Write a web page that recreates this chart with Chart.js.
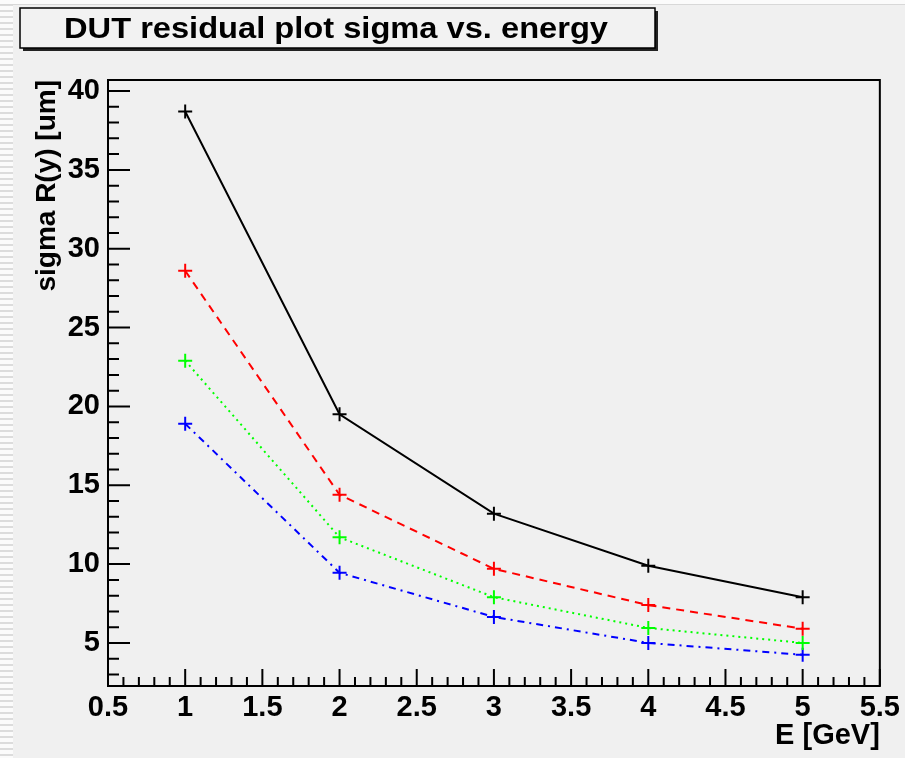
<!DOCTYPE html>
<html>
<head>
<meta charset="utf-8">
<script src="https://cdn.jsdelivr.net/npm/chart.js@4"></script>
<style>
  html, body { margin: 0; padding: 0; background: #f0f0f0; }
  #wrap { position: relative; width: 905px; height: 758px; }
  #strip {
    position: absolute; left: 0; top: 0; width: 13px; height: 758px;
    background: repeating-linear-gradient(to bottom, #fbfbfb 0px, #fbfbfb 4px, #dcdcdc 4px, #dcdcdc 6px);
  }
  #topline { position: absolute; left: 0; top: 0; width: 905px; height: 4px; background: #fbfbfb; border-bottom: 1px solid #d8d8d8; }
  canvas { position: absolute; left: 0; top: 0; }
</style>
</head>
<body>
<div id="wrap">
  <div id="strip"></div>
  <div id="topline"></div>
  <canvas id="chart" width="905" height="758"></canvas>
</div>
<script>
const energies = [1, 2, 3, 4, 5];
const sigmaBlack = [38.7, 19.5, 13.2, 9.9, 7.9];
const sigmaRed = [28.6, 14.4, 9.7, 7.4, 5.9];
const sigmaGreen = [22.9, 11.7, 7.9, 5.95, 5.0];
const sigmaBlue = [18.9, 9.45, 6.65, 5.0, 4.25];
const xTicks = [0.5, 1, 1.5, 2, 2.5, 3, 3.5, 4, 4.5, 5, 5.5];
const yTicks = [5, 10, 15, 20, 25, 30, 35, 40];
const titleText = "DUT residual plot sigma vs. energy";

function pts(ys) {
  return energies.map((e, i) => ({ x: e, y: ys[i] }));
}

function series(label, ys, color, dash) {
  return {
    label: label,
    data: pts(ys),
    borderColor: color,
    backgroundColor: color,
    borderWidth: 2,
    borderDash: dash,
    pointStyle: "cross",
    pointRadius: 7,
    pointBorderWidth: 2,
    pointHoverRadius: 7,
    tension: 0,
  };
}

// frame, ROOT style ticks and the title box
const rootFrame = {
  id: "rootFrame",
  afterDraw(chart) {
    const ctx = chart.ctx;
    const a = chart.chartArea;
    const xs = chart.scales.x;
    const ys = chart.scales.y;
    ctx.save();
    ctx.strokeStyle = "#000";
    ctx.lineWidth = 2;
    ctx.strokeRect(a.left, a.top, a.right - a.left, a.bottom - a.top);

    ctx.beginPath();
    for (let i = 3; i <= 40; i++) {
      const p = ys.getPixelForValue(i);
      const len = i % 5 === 0 ? 22 : 11;
      ctx.moveTo(a.left, p);
      ctx.lineTo(a.left + len, p);
    }
    for (let i = 5; i <= 55; i++) {
      const p = xs.getPixelForValue(i / 10);
      const len = i % 5 === 0 ? 17 : 9;
      ctx.moveTo(p, a.bottom);
      ctx.lineTo(p, a.bottom - len);
    }
    ctx.stroke();

    // title box with shadow
    ctx.fillStyle = "#222";
    ctx.fillRect(23, 11, 635, 40);
    ctx.fillStyle = "#f2f2f2";
    ctx.fillRect(20, 8, 635, 40);
    ctx.lineWidth = 1.5;
    ctx.strokeStyle = "#000";
    ctx.strokeRect(20, 8, 635, 40);
    ctx.fillStyle = "#000";
    ctx.font = "bold 30px 'Liberation Sans', Arial, sans-serif";
    ctx.textAlign = "center";
    ctx.textBaseline = "middle";
    const w = ctx.measureText(titleText).width;
    ctx.translate(336, 30);
    ctx.scale(544 / w, 1);
    ctx.fillText(titleText, 0, 0);
    ctx.restore();
  },
};

const font = { family: "'Liberation Sans', Arial, sans-serif", weight: "bold" };

new Chart(document.getElementById("chart"), {
  type: "line",
  data: {
    datasets: [
      series("black", sigmaBlack, "#000000", []),
      series("red", sigmaRed, "#ff0000", [8, 6]),
      series("green", sigmaGreen, "#00ff00", [2, 4]),
      series("blue", sigmaBlue, "#0000ff", [7, 5, 2, 5]),
    ],
  },
  options: {
    responsive: false,
    animation: false,
    layout: { padding: { left: 0, top: 80, right: 24, bottom: 0 } },
    plugins: { legend: { display: false }, tooltip: { enabled: false } },
    scales: {
      x: {
        type: "linear",
        min: 0.5,
        max: 5.5,
        grid: { display: false, drawTicks: false },
        border: { display: false },
        afterBuildTicks: (s) => { s.ticks = xTicks.map((v) => ({ value: v })); },
        afterFit: (s) => { s.height = 72; },
        ticks: {
          padding: 5,
          color: "#000",
          maxRotation: 0,
          autoSkip: false,
          font: { ...font, size: 29 },
          callback: (v) => String(v),
        },
        title: {
          display: true,
          text: "E [GeV]",
          align: "end",
          color: "#000",
          padding: { top: 0, bottom: 5 },
          font: { ...font, size: 29 },
        },
      },
      y: {
        min: 2.27,
        max: 40.7,
        grid: { display: false, drawTicks: false },
        border: { display: false },
        afterBuildTicks: (s) => { s.ticks = yTicks.map((v) => ({ value: v })); },
        afterFit: (s) => { s.width = 108; },
        ticks: {
          padding: 8,
          color: "#000",
          font: { ...font, size: 29 },
        },
        title: {
          display: true,
          text: "sigma R(y) [um]",
          align: "end",
          color: "#000",
          padding: { top: 30, bottom: 0 },
          font: { ...font, size: 28 },
        },
      },
    },
  },
  plugins: [rootFrame],
});
</script>
</body>
</html>
